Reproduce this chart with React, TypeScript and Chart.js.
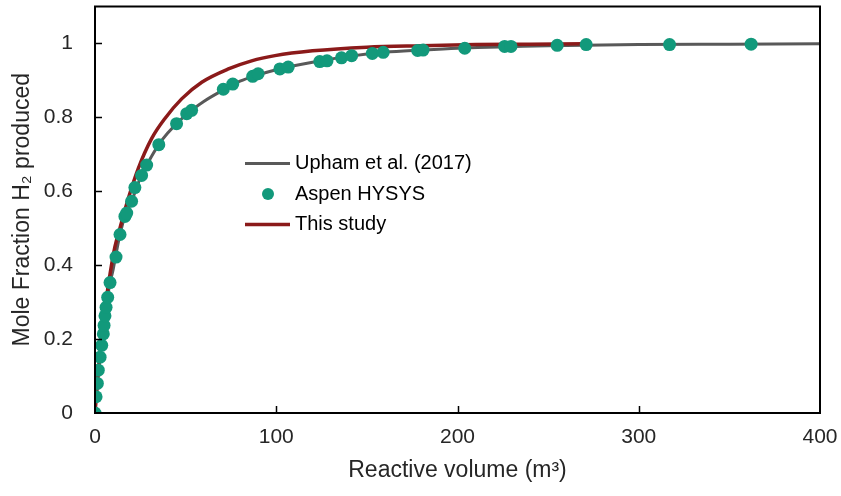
import React, { useEffect, useRef } from "react";
import { Chart, registerables } from "chart.js";

Chart.register(...registerables);

// Aspen HYSYS simulated points (reactive volume m3, mole fraction H2)
const hysysX = [0, 0.6, 1.3, 1.8, 2.8, 3.7, 4.6, 5.0, 5.5, 6.1, 7.0, 8.3, 11.6, 13.8, 16.5, 17.5, 20.2, 22, 25.7, 28.5, 35.2, 45, 50.6, 53.3, 70.8, 76, 87, 90, 102, 106.6, 124, 128, 136, 141.6, 153, 159, 178, 181, 204, 226, 229.5, 255, 271, 317, 362];
const hysysY = [0, 0.044, 0.08, 0.116, 0.151, 0.183, 0.214, 0.237, 0.263, 0.286, 0.313, 0.353, 0.422, 0.483, 0.532, 0.541, 0.573, 0.61, 0.643, 0.671, 0.726, 0.783, 0.81, 0.819, 0.876, 0.89, 0.911, 0.918, 0.931, 0.936, 0.951, 0.953, 0.961, 0.967, 0.973, 0.976, 0.981, 0.982, 0.987, 0.992, 0.992, 0.995, 0.997, 0.997, 0.998];

// Upham et al. (2017) curve
const uphamX = [0, 1, 2, 4, 6, 8, 10, 13, 16, 20, 25, 30, 35, 40, 50, 60, 70, 80, 90, 100, 120, 140, 160, 180, 200, 250, 300, 350, 400];
const uphamY = [0, 0.07, 0.125, 0.2, 0.283, 0.345, 0.388, 0.465, 0.525, 0.57, 0.636, 0.684, 0.725, 0.757, 0.806, 0.843, 0.872, 0.898, 0.915, 0.929, 0.949, 0.965, 0.976, 0.982, 0.987, 0.994, 0.997, 0.998, 0.999];

// This study curve
const studyX = [0, 2, 4, 6, 8.3, 11, 13.8, 18.4, 23.9, 31.3, 38.6, 47.8, 58.9, 73.6, 86.4, 99.3, 120, 150, 180, 210, 240, 270];
const studyY = [0, 0.12, 0.22, 0.3, 0.376, 0.45, 0.501, 0.581, 0.662, 0.743, 0.797, 0.85, 0.895, 0.931, 0.953, 0.967, 0.98, 0.99, 0.994, 0.997, 0.998, 0.999];

const xTicks = [0, 100, 200, 300, 400];
const yTicks = [0, 0.2, 0.4, 0.6, 0.8, 1];

const seriesNames = ["Upham et al. (2017)", "Aspen HYSYS", "This study"];

const GRAY = "#595959";
const TEAL = "#12997b";
const RED = "#8b1a1a";
const TEXT = "#262626";
const FONT = "'Liberation Sans', Arial, sans-serif";

const zip = (xs: number[], ys: number[]) => xs.map((x, i) => ({ x, y: ys[i] }));

const framePlugin = {
  id: "frameAndLegend",
  afterDraw(chart: any) {
    const { ctx, chartArea, scales } = chart;
    const { left, right, top, bottom } = chartArea;
    ctx.save();
    ctx.strokeStyle = "#000";
    ctx.lineWidth = 2;
    ctx.strokeRect(left, top, right - left, bottom - top);
    // inward ticks
    ctx.beginPath();
    yTicks.forEach((v) => {
      if (v === 0) return;
      const y = Math.round(scales.y.getPixelForValue(v)) + 0.5;
      ctx.moveTo(left, y);
      ctx.lineTo(left + 7, y);
    });
    xTicks.forEach((v) => {
      if (v === 0 || v === 400) return;
      const x = Math.round(scales.x.getPixelForValue(v)) + 0.5;
      ctx.moveTo(x, bottom);
      ctx.lineTo(x, bottom - 7);
    });
    ctx.lineWidth = 1.5;
    ctx.stroke();

    // legend
    const lx = left + 150;
    const ly = top + 157;
    const gap = 30.5;
    ctx.font = `20px ${FONT}`;
    ctx.fillStyle = "#000";
    ctx.textBaseline = "middle";
    ctx.textAlign = "left";
    // Upham
    ctx.strokeStyle = GRAY;
    ctx.lineWidth = 3;
    ctx.beginPath();
    ctx.moveTo(lx, ly);
    ctx.lineTo(lx + 45, ly);
    ctx.stroke();
    ctx.fillText(seriesNames[0], lx + 50, ly);
    // HYSYS
    ctx.fillStyle = TEAL;
    ctx.beginPath();
    ctx.arc(lx + 23, ly + gap, 6, 0, Math.PI * 2);
    ctx.fill();
    ctx.fillStyle = "#000";
    ctx.fillText(seriesNames[1], lx + 50, ly + gap);
    // This study
    ctx.strokeStyle = RED;
    ctx.lineWidth = 3.5;
    ctx.beginPath();
    ctx.moveTo(lx, ly + 2 * gap);
    ctx.lineTo(lx + 45, ly + 2 * gap);
    ctx.stroke();
    ctx.fillText(seriesNames[2], lx + 50, ly + 2 * gap);
    ctx.restore();
  },
};

export default function App() {
  const ref = useRef<HTMLCanvasElement | null>(null);

  useEffect(() => {
    document.body.style.margin = "0";
    if (!ref.current) return;
    const chart = new Chart(ref.current, {
      type: "scatter",
      data: {
        datasets: [
          {
            label: seriesNames[1],
            data: zip(hysysX, hysysY),
            showLine: false,
            pointRadius: 6.5,
            pointBackgroundColor: TEAL,
            pointBorderWidth: 0,
            borderColor: TEAL,
            order: 0,
          },
          {
            label: seriesNames[2],
            data: zip(studyX, studyY),
            showLine: true,
            borderColor: RED,
            borderWidth: 3.5,
            pointRadius: 0,
            cubicInterpolationMode: "monotone",
            order: 1,
          },
          {
            label: seriesNames[0],
            data: zip(uphamX, uphamY),
            showLine: true,
            borderColor: GRAY,
            borderWidth: 3,
            pointRadius: 0,
            cubicInterpolationMode: "monotone",
            order: 2,
          },
        ],
      },
      options: {
        responsive: false,
        animation: false,
        devicePixelRatio: 1,
        layout: { padding: { top: 4, right: 21, left: 0, bottom: 0 } },
        plugins: {
          legend: { display: false },
          tooltip: { enabled: false },
        },
        scales: {
          x: {
            type: "linear",
            min: 0,
            max: 400,
            grid: { display: false, drawTicks: false },
            border: { display: false },
            afterBuildTicks: (s: any) => {
              s.ticks = xTicks.map((v) => ({ value: v }));
            },
            afterFit: (s: any) => {
              s.height = 83;
              s.paddingLeft = 0;
              s.paddingRight = 0;
            },
            ticks: {
              padding: 12,
              color: TEXT,
              font: { family: FONT, size: 21 },
              maxRotation: 0,
              callback: (v: any) => String(v),
            },
            title: {
              display: true,
              text: "Reactive volume (m³)",
              color: TEXT,
              font: { family: FONT, size: 23 },
              padding: { top: 0, bottom: 12 },
            },
          },
          y: {
            type: "linear",
            min: 0,
            max: 1.1,
            grid: { display: false, drawTicks: false },
            border: { display: false },
            afterBuildTicks: (s: any) => {
              s.ticks = yTicks.map((v) => ({ value: v }));
            },
            afterFit: (s: any) => {
              s.width = 95;
              s.paddingTop = 0;
              s.paddingBottom = 0;
            },
            ticks: {
              padding: 22,
              color: TEXT,
              font: { family: FONT, size: 21 },
              callback: (v: any) => String(Math.round(Number(v) * 10) / 10),
            },
            title: {
              display: true,
              text: "Mole Fraction H₂ produced",
              color: TEXT,
              font: { family: FONT, size: 23 },
              padding: { top: 9, bottom: 0 },
            },
          },
        },
      },
      plugins: [framePlugin],
    } as any);
    return () => chart.destroy();
  }, []);

  return (
    <div style={{ width: 841, height: 496, position: "relative", background: "#fff" }}>
      <canvas ref={ref} width={841} height={496} />
    </div>
  );
}
